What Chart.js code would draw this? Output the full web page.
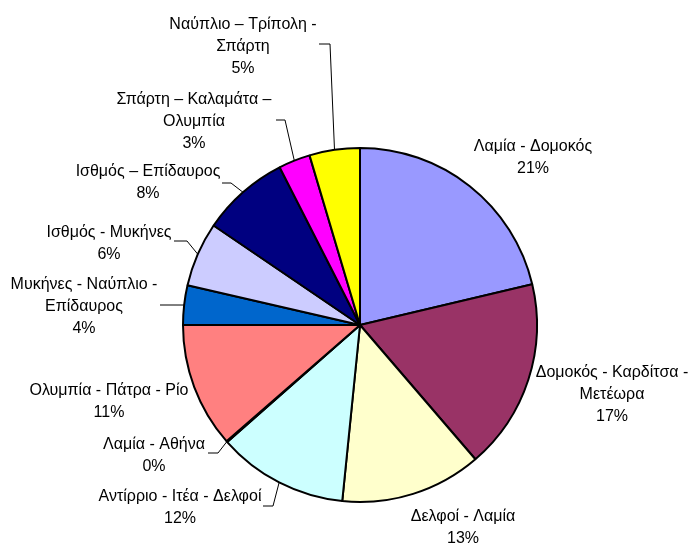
<!DOCTYPE html>
<html>
<head>
<meta charset="utf-8">
<script src="https://cdn.jsdelivr.net/npm/chart.js@4"></script>
<style>
  html, body { margin: 0; padding: 0; background: #fff; }
  #wrap { width: 692px; height: 545px; }
</style>
</head>
<body>
<div id="wrap"><canvas id="myChart" width="692" height="545"></canvas></div>
<script>
// DATA
var categories = [
    ["Λαμία - Δομοκός"],
    ["Δομοκός - Καρδίτσα -", "Μετέωρα"],
    ["Δελφοί - Λαμία"],
    ["Αντίρριο - Ιτέα - Δελφοί"],
    ["Λαμία - Αθήνα"],
    ["Ολυμπία - Πάτρα - Ρίο"],
    ["Μυκήνες - Ναύπλιο -", "Επίδαυρος"],
    ["Ισθμός - Μυκήνες"],
    ["Ισθμός – Επίδαυρος"],
    ["Σπάρτη – Καλαμάτα –", "Ολυμπία"],
    ["Ναύπλιο – Τρίπολη -", "Σπάρτη"]
];
var values = [21.3, 17.4, 12.9, 11.9, 0.1, 11.4, 3.6, 5.9, 8.0, 2.9, 4.6];
var colors = ["#9999FF", "#993366", "#FFFFCC", "#CCFFFF", "#660066", "#FF8080",
              "#0066CC", "#CCCCFF", "#000080", "#FF00FF", "#FFFF00"];

// label placement: centre of text block, optional leader start + elbow
var labelLayout = [
    { x: 533, y: 158 },
    { x: 612, y: 395 },
    { x: 463, y: 528 },
    { x: 180, y: 508, lead: [[263, 506], [273, 506]] },
    { x: 154, y: 456, lead: [[208, 453], [218, 453]] },
    { x: 109, y: 402 },
    { x: 84,  y: 307, lead: [[160, 305], [170, 305]] },
    { x: 109, y: 244, lead: [[174, 241], [187, 241]] },
    { x: 148, y: 183, lead: [[222, 183], [231, 183]] },
    { x: 194, y: 122, lead: [[276, 120], [285, 120]] },
    { x: 243, y: 47,  lead: [[319, 44], [330, 44]] }
];

var total = values.reduce(function (a, b) { return a + b; }, 0);

var labelPlugin = {
    id: 'sliceLabels',
    afterDatasetsDraw: function (chart) {
        var c = chart.ctx;
        var arcs = chart.getDatasetMeta(0).data;
        c.save();
        // leader lines
        c.strokeStyle = '#000';
        c.lineWidth = 1;
        labelLayout.forEach(function (l, i) {
            if (!l.lead) return;
            var a = arcs[i];
            var mid = (a.startAngle + a.endAngle) / 2;
            c.beginPath();
            c.moveTo(l.lead[0][0], l.lead[0][1]);
            c.lineTo(l.lead[1][0], l.lead[1][1]);
            c.lineTo(a.x + a.outerRadius * Math.cos(mid), a.y + a.outerRadius * Math.sin(mid));
            c.stroke();
        });
        // texts
        c.fillStyle = '#000';
        c.font = '16px "Liberation Sans", Arial, sans-serif';
        c.textAlign = 'center';
        c.textBaseline = 'middle';
        var lh = 22;
        labelLayout.forEach(function (l, i) {
            var lines = categories[i].concat([Math.round(values[i] / total * 100) + '%']);
            var y0 = l.y - (lines.length - 1) * lh / 2;
            lines.forEach(function (t, k) {
                c.fillText(t, l.x, y0 + k * lh);
            });
        });
        c.restore();
    }
};

var ctx = document.getElementById('myChart').getContext('2d');
var chart = new Chart(ctx, {
    type: 'pie',
    data: {
        labels: categories.map(function (l) { return l.join(' '); }),
        datasets: [{
            data: values,
            backgroundColor: colors,
            borderColor: '#000',
            borderWidth: 2
        }]
    },
    options: {
        responsive: false,
        animation: false,
        layout: { padding: { left: 182, right: 154, top: 147, bottom: 42 } },
        plugins: {
            legend: { display: false },
            tooltip: { enabled: false }
        }
    },
    plugins: [labelPlugin]
});
</script>
</body>
</html>
